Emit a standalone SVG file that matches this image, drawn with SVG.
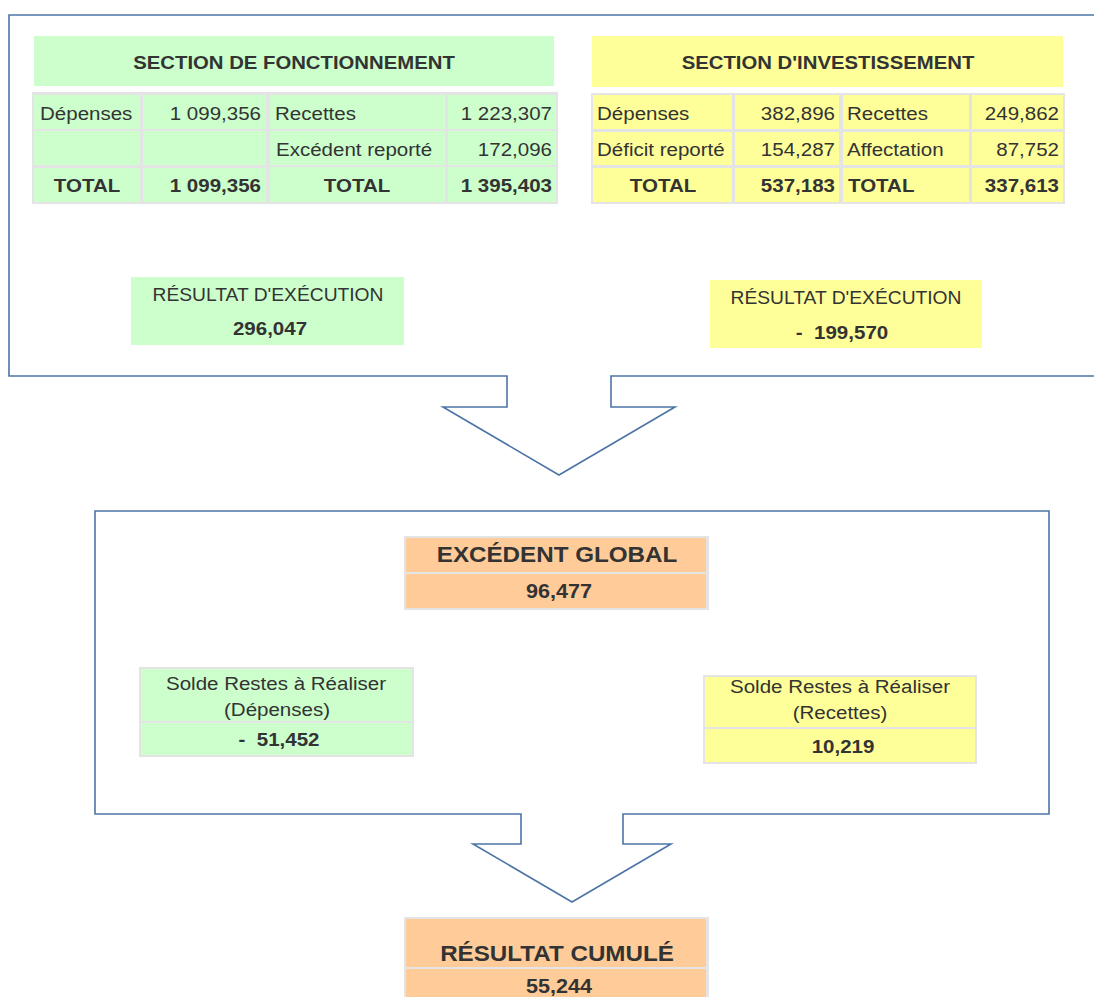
<svg xmlns="http://www.w3.org/2000/svg" width="1094" height="997" viewBox="0 0 1094 997">
<style>
.t{font-family:"Liberation Sans",Arial,Helvetica,sans-serif;fill:#333333;font-size:19px}
.b{font-weight:bold}
.e{text-anchor:end}
.m{text-anchor:middle}
.g{fill:#ccffcc}
.y{fill:#ffff99}
.o{fill:#ffcc99}
.bd{fill:#e4e4e4}
.ln{fill:none;stroke:#4d74a6;stroke-width:1.6}
</style>
<rect width="1094" height="997" fill="#ffffff"/>
<g id="connectors">
<path class="ln" d="M1100,15 L9,15 L9,376 L507,376 L507,407 L443,407 L559,475 L675,407 L611,407 L611,376 L1100,376"/>
<path class="ln" d="M521,814 L95,814 L95,511 L1049,511 L1049,814 L623,814 L623,844 L671,844 L572,902 L473,844 L521,844 Z"/>
</g>
<g id="section-fonctionnement">
<rect class="g" x="34" y="36" width="520" height="50"/>
<text class="t b m" transform="translate(294,69) scale(1.07,1)">SECTION DE FONCTIONNEMENT</text>
<rect class="bd" x="32" y="92" width="236" height="112"/>
<rect class="bd" x="268" y="92" width="290" height="112"/>
<rect class="g" x="34" y="95" width="106" height="34"/>
<rect class="g" x="143" y="95" width="123" height="34"/>
<rect class="g" x="34" y="131" width="106" height="34"/>
<rect class="g" x="143" y="131" width="123" height="34"/>
<rect class="g" x="34" y="168" width="106" height="34"/>
<rect class="g" x="143" y="168" width="123" height="34"/>
<rect class="g" x="270" y="95" width="175" height="34"/>
<rect class="g" x="448" y="95" width="108" height="34"/>
<rect class="g" x="270" y="131" width="175" height="34"/>
<rect class="g" x="448" y="131" width="108" height="34"/>
<rect class="g" x="270" y="167" width="175" height="35"/>
<rect class="g" x="448" y="167" width="108" height="35"/>
<text class="t" transform="translate(40,120) scale(1.08,1)">Dépenses</text>
<text class="t e" transform="translate(261,120) scale(1.08,1)">1 099,356</text>
<text class="t" transform="translate(275,120) scale(1.08,1)">Recettes</text>
<text class="t e" transform="translate(552,120) scale(1.08,1)">1 223,307</text>
<text class="t" transform="translate(276,156) scale(1.08,1)">Excédent reporté</text>
<text class="t e" transform="translate(552,156) scale(1.08,1)">172,096</text>
<text class="t b m" transform="translate(87,192) scale(1.08,1)">TOTAL</text>
<text class="t b e" transform="translate(261,192) scale(1.08,1)">1 099,356</text>
<text class="t b m" transform="translate(357,192) scale(1.08,1)">TOTAL</text>
<text class="t b e" transform="translate(552,192) scale(1.08,1)">1 395,403</text>
</g>
<g id="section-investissement">
<rect class="y" x="592" y="36" width="471" height="51"/>
<text class="t b m" transform="translate(828,69) scale(1.07,1)">SECTION D'INVESTISSEMENT</text>
<rect class="bd" x="591" y="93" width="250" height="111"/>
<rect class="bd" x="841" y="93" width="224" height="111"/>
<rect class="y" x="593" y="95" width="139" height="34"/>
<rect class="y" x="735" y="95" width="104" height="34"/>
<rect class="y" x="593" y="132" width="139" height="33"/>
<rect class="y" x="735" y="132" width="104" height="33"/>
<rect class="y" x="593" y="168" width="139" height="34"/>
<rect class="y" x="735" y="168" width="104" height="34"/>
<rect class="y" x="843" y="95" width="126" height="34"/>
<rect class="y" x="972" y="95" width="91" height="34"/>
<rect class="y" x="843" y="132" width="126" height="33"/>
<rect class="y" x="972" y="132" width="91" height="33"/>
<rect class="y" x="843" y="168" width="126" height="34"/>
<rect class="y" x="972" y="168" width="91" height="34"/>
<text class="t" transform="translate(597,120) scale(1.08,1)">Dépenses</text>
<text class="t e" transform="translate(835,120) scale(1.08,1)">382,896</text>
<text class="t" transform="translate(847,120) scale(1.08,1)">Recettes</text>
<text class="t e" transform="translate(1059,120) scale(1.08,1)">249,862</text>
<text class="t" transform="translate(597,156) scale(1.08,1)">Déficit reporté</text>
<text class="t e" transform="translate(835,156) scale(1.08,1)">154,287</text>
<text class="t" transform="translate(847,156) scale(1.08,1)">Affectation</text>
<text class="t e" transform="translate(1059,156) scale(1.08,1)">87,752</text>
<text class="t b m" transform="translate(663,192) scale(1.08,1)">TOTAL</text>
<text class="t b e" transform="translate(835,192) scale(1.08,1)">537,183</text>
<text class="t b" transform="translate(848,192) scale(1.08,1)">TOTAL</text>
<text class="t b e" transform="translate(1059,192) scale(1.08,1)">337,613</text>
</g>
<g id="resultat-fonctionnement">
<rect class="g" x="131" y="277" width="273" height="68"/>
<text class="t m" transform="translate(268,301) scale(1.1,1)" style="font-size:17.5px">RÉSULTAT D'EXÉCUTION</text>
<text class="t b m" transform="translate(270,335) scale(1.08,1)">296,047</text>
</g>
<g id="resultat-investissement">
<rect class="y" x="710" y="280" width="272" height="68"/>
<text class="t m" transform="translate(846,304) scale(1.1,1)" style="font-size:17.5px">RÉSULTAT D'EXÉCUTION</text>
<text class="t b m" transform="translate(842,339) scale(1.08,1)" xml:space="preserve">-  199,570</text>
</g>
<g id="excedent-global">
<rect class="bd" x="404" y="536" width="305" height="74"/>
<rect class="o" x="406" y="538" width="300" height="34"/>
<rect class="o" x="406" y="574" width="300" height="34"/>
<text class="t b m" transform="translate(557,562) scale(1.1,1)" style="font-size:22px">EXCÉDENT GLOBAL</text>
<text class="t b m" transform="translate(559,598) scale(1.08,1)" style="font-size:20px">96,477</text>
</g>
<g id="solde-depenses">
<rect class="bd" x="139" y="667" width="275" height="90"/>
<rect class="g" x="141" y="669" width="271" height="52"/>
<rect class="g" x="141" y="723" width="271" height="32"/>
<text class="t m" transform="translate(276,690) scale(1.08,1)">Solde Restes à Réaliser</text>
<text class="t m" transform="translate(277,716) scale(1.08,1)">(Dépenses)</text>
<text class="t b m" transform="translate(279,746) scale(1.08,1)" xml:space="preserve">-  51,452</text>
</g>
<g id="solde-recettes">
<rect class="bd" x="703" y="675" width="274" height="89"/>
<rect class="y" x="705" y="677" width="270" height="50"/>
<rect class="y" x="705" y="729" width="270" height="33"/>
<text class="t m" transform="translate(840,693) scale(1.08,1)">Solde Restes à Réaliser</text>
<text class="t m" transform="translate(840,719) scale(1.08,1)">(Recettes)</text>
<text class="t b m" transform="translate(843,753) scale(1.08,1)">10,219</text>
</g>
<g id="resultat-cumule">
<rect class="bd" x="404" y="917" width="305" height="82"/>
<rect class="o" x="406" y="919" width="300" height="48"/>
<rect class="o" x="406" y="969" width="300" height="30"/>
<text class="t b m" transform="translate(557,961) scale(1.1,1)" style="font-size:22px">RÉSULTAT CUMULÉ</text>
<text class="t b m" transform="translate(559,993) scale(1.08,1)" style="font-size:20px">55,244</text>
</g>
</svg>
